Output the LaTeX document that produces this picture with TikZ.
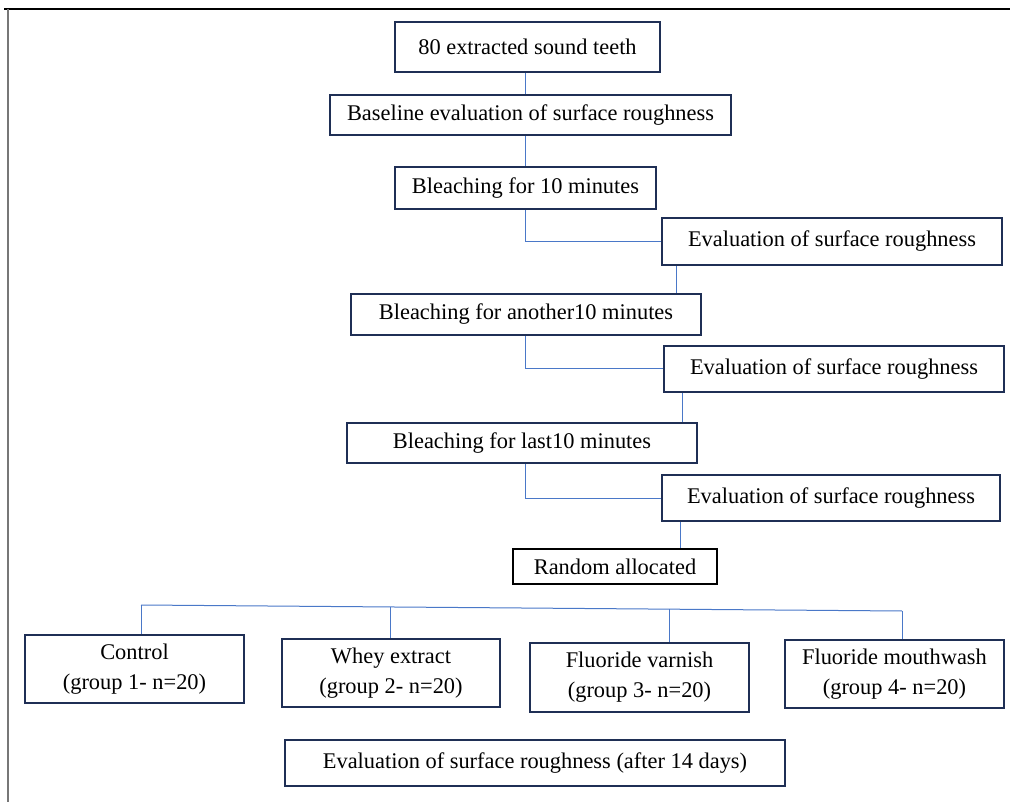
\documentclass[tikz,border=0pt]{standalone}
\usepackage{fontspec}
\setmainfont{Liberation Serif}
\definecolor{boxc}{HTML}{1F2F55}
\definecolor{connc}{HTML}{4A78C8}
\definecolor{framec}{HTML}{777777}
\tikzset{
  stepbox/.style={draw=boxc, line width=2.6pt, fill=white, inner sep=0pt, align=center,
    font=\fontsize{22.4}{30}\selectfont},
  conn/.style={draw=connc, line width=1pt},
}
\begin{document}
\begin{tikzpicture}[x=1pt,y=-1pt]
\useasboundingbox (0,0) rectangle (1010,802);
% frame
\draw[black, line width=1.6pt] (4,9) -- (1010,9);
\draw[framec, line width=2pt] (8,9) -- (8,802);

% boxes
\node[stepbox, minimum width=265, minimum height=50] (b1) at (527.5,47) {80 extracted sound teeth};
\node[stepbox, minimum width=401, minimum height=40] (b2) at (530.5,115) {Baseline evaluation of surface roughness};
\node[stepbox, minimum width=261, minimum height=42] (b3) at (525.5,188) {Bleaching for 10 minutes};
\node[stepbox, minimum width=340, minimum height=47] (e1) at (832,241.5) {Evaluation of surface roughness};
\node[stepbox, minimum width=350, minimum height=41] (b5) at (526,314.5) {Bleaching for another10 minutes};
\node[stepbox, minimum width=340, minimum height=46] (e2) at (834,369) {Evaluation of surface roughness};
\node[stepbox, minimum width=350, minimum height=40] (b7) at (522,443) {Bleaching for last10 minutes};
\node[stepbox, minimum width=338, minimum height=46] (e3) at (831,498) {Evaluation of surface roughness};
\node[stepbox, draw=black, minimum width=204, minimum height=35] (ra) at (615,566.5) {Random allocated};
\node[stepbox, minimum width=219, minimum height=68] (g1) at (134.5,669) {Control\\(group 1- n=20)};
\node[stepbox, minimum width=218, minimum height=68] (g2) at (391,673) {Whey extract\\(group 2- n=20)};
\node[stepbox, minimum width=219, minimum height=69] (g3) at (639.5,677.5) {Fluoride varnish\\(group 3- n=20)};
\node[stepbox, minimum width=219, minimum height=68] (g4) at (894.5,674) {Fluoride mouthwash\\(group 4- n=20)};
\node[stepbox, minimum width=500, minimum height=46] (fe) at (535,763) {Evaluation of surface roughness (after 14 days)};

% connector guide coordinates
\coordinate (a1) at (525,0);
\coordinate (a2) at (676,0);
\coordinate (a3) at (682,0);
\coordinate (a4) at (680,0);
\coordinate (bl) at (141,605);
\coordinate (br) at (902,611);
\coordinate (bw) at (390,607);
\coordinate (bv) at (669,609.2);

\draw[conn] (b1.south -| a1) -- (b2.north -| a1);
\draw[conn] (b2.south -| a1) -- (b3.north -| a1);
\draw[conn] (b3.south -| a1) |- (e1.west);
\draw[conn] (e1.south -| a2) -- (b5.north -| a2);
\draw[conn] (b5.south -| a1) |- (e2.west);
\draw[conn] (e2.south -| a3) -- (b7.north -| a3);
\draw[conn] (b7.south -| a1) |- (e3.west);
\draw[conn] (e3.south -| a4) -- (ra.north -| a4);

\draw[conn] (bl) -- (br);
\draw[conn] (bl) -- (g1.north -| bl);
\draw[conn] (bw) -- (g2.north -| bw);
\draw[conn] (bv) -- (g3.north -| bv);
\draw[conn] (br) -- (g4.north -| br);
\end{tikzpicture}
\end{document}
